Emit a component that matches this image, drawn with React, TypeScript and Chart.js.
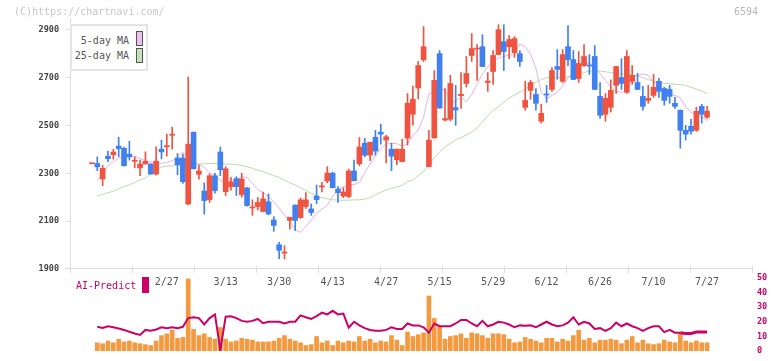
import React, { useEffect, useRef } from 'react';
import { Chart, registerables } from 'chart.js';
Chart.register(...registerables);

const MONO = '"DejaVu Sans Mono", "Liberation Mono", monospace';
const UP = '#f05440';
const DOWN = '#4080f0';
const AI_COLOR = '#cc0066';
const VOL_COLOR = '#f39a40';
const MA5_COLOR = '#e8b0e8';
const MA25_COLOR = '#b8dca8';

const OPEN = [2340,2341,2276,2372,2378,2414,2405,2380,2350,2323, 2339,2339,2297,2401,2411,2459,2364,2364,2171,2472, 2296,2226,2190,2290,2389,2223,2244,2278,2211,2239, 2155,2161,2140,2181,2105,2001,1966,2103,2167,2115, 2161,2151,2205,2243,2268,2301,2234,2205,2203,2310, 2340,2426,2376,2451,2472,2439,2401,2357,2349,2447, 2547,2657,2775,2328,2448,2801,2523,2526,2575,2625, 2676,2793,2820,2830,2680,2726,2797,2851,2830,2805, 2801,2576,2647,2630,2518,2632,2651,2747,2685,2830, 2776,2697,2751,2753,2789,2622,2547,2576,2668,2701, 2639,2685,2680,2622,2605,2626,2685,2655,2651,2593, 2564,2480,2497,2480,2580,2535];
const HIGH = [2343,2369,2334,2393,2401,2451,2410,2434,2369,2355, 2390,2340,2411,2439,2464,2494,2383,2380,2703,2473, 2334,2260,2298,2300,2410,2328,2283,2286,2300,2241, 2189,2199,2222,2214,2119,2011,1997,2117,2168,2197, 2219,2172,2251,2262,2328,2305,2244,2240,2318,2355, 2450,2447,2431,2480,2505,2459,2426,2402,2443,2634, 2665,2768,2914,2480,2730,2814,2655,2710,2668,2722, 2789,2885,2839,2880,2722,2814,2922,2922,2876,2872, 2814,2685,2689,2655,2589,2668,2743,2818,2818,2918, 2814,2810,2839,2797,2835,2680,2634,2691,2748,2780, 2814,2751,2718,2664,2668,2714,2697,2660,2668,2618, 2565,2501,2526,2576,2589,2580];
const LOW = [2339,2311,2248,2349,2359,2369,2330,2355,2323,2290, 2339,2296,2293,2361,2372,2401,2294,2258,2170,2318, 2276,2129,2178,2217,2290,2207,2230,2207,2200,2163, 2124,2147,2139,2126,2057,1943,1942,2067,2060,2111, 2153,2124,2173,2222,2260,2239,2178,2198,2198,2268, 2332,2369,2353,2376,2422,2344,2311,2336,2348,2418, 2501,2611,2768,2327,2447,2572,2519,2519,2501,2572, 2661,2768,2689,2746,2643,2672,2796,2730,2780,2785, 2747,2564,2610,2564,2510,2597,2643,2693,2680,2751, 2692,2680,2747,2714,2650,2530,2518,2556,2634,2651, 2634,2672,2650,2564,2593,2618,2618,2585,2593,2572, 2405,2439,2464,2476,2510,2530];
const CLOSE = [2342,2327,2321,2361,2389,2403,2332,2369,2355,2339, 2350,2297,2351,2390,2416,2464,2336,2265,2422,2319, 2310,2186,2290,2228,2315,2319,2264,2244,2276,2165, 2159,2178,2193,2130,2082,1978,1971,2116,2103,2189, 2189,2136,2190,2248,2301,2240,2219,2222,2310,2269, 2410,2376,2430,2393,2464,2453,2372,2401,2401,2593, 2610,2751,2830,2439,2689,2573,2529,2676,2565,2631, 2718,2822,2824,2747,2686,2793,2901,2810,2860,2864, 2768,2605,2680,2593,2551,2628,2730,2735,2797,2776, 2693,2760,2789,2749,2651,2543,2614,2647,2747,2676, 2789,2710,2651,2580,2614,2660,2643,2605,2622,2580, 2480,2464,2476,2560,2547,2560];

const MA5 = [null,2269,2300,2330,2350,2362,2369,2370,2372,2362, 2353,2348,2341,2341,2346,2352,2369,2389,2360,2339, 2339,2325,2300,2295,2269,2265,2268,2272,2286,2283, 2258,2232,2219,2203,2180,2155,2125,2100,2064,2053, 2078,2105,2133,2150,2166,2203,2230,2244,2253,2253, 2262,2303,2339,2375,2404,2422,2426,2424,2414,2423, 2458,2482,2536,2633,2640,2640,2654,2590,2605,2619, 2600,2630,2673,2715,2745,2769,2782,2789,2795,2800, 2841,2830,2800,2740,2640,2612,2626,2640,2665,2700, 2720,2740,2758,2761,2745,2716,2689,2661,2644,2639, 2644,2696,2710,2716,2710,2682,2670,2640,2630,2626, 2615,2580,2555,2543,2536,2520];
const MA25 = [null,2205,2212,2219,2225,2235,2245,2252,2262,2272, 2280,2298,2315,2327,2330,2331,2334,2337,2339,2339, 2339,2340,2341,2341,2340,2339,2338,2337,2333,2327, 2321,2313,2307,2298,2291,2282,2272,2260,2251,2240, 2228,2215,2205,2198,2193,2189,2188,2187,2188,2189, 2189,2192,2198,2210,2221,2230,2237,2243,2250,2265, 2272,2290,2307,2335,2365,2390,2410,2425,2440,2450, 2460,2472,2490,2515,2540,2563,2578,2598,2615,2628, 2640,2652,2668,2682,2692,2700,2700,2701,2702,2704, 2706,2715,2722,2728,2730,2728,2725,2722,2720,2716, 2714,2712,2708,2700,2692,2686,2680,2677,2675,2673, 2671,2668,2660,2652,2645,2632];

const VOLUME = [null,90,80,110,90,130,100,110,90,80, 70,60,110,170,190,230,140,150,800,240, 170,190,150,130,260,130,100,110,140,130, 120,100,100,100,110,140,170,130,110,90, 60,70,160,90,110,60,110,90,110,100, 160,110,130,90,110,100,170,120,60,210, 160,180,200,610,360,270,130,160,170,190, 140,200,190,170,140,190,190,180,130,90, 100,150,130,110,90,140,140,100,130,110, 170,230,120,140,90,120,120,130,120,80, 120,160,90,120,80,70,80,120,100,90, 200,110,90,110,90,90];
const AI = [null,16.5,15.8,16.9,16.2,15.3,14.4,13.1,11.9,10.9, 14.4,13.8,14.7,16.2,15.6,16.2,15.6,16.5,22.5,23.1, 22.5,18.1,22.5,25,0.5,23.5,23.8,22.5,20.6,20, 20.6,21.9,19,20,20,20,18.8,20,20,24.4, 23.1,21.9,23.8,26.2,25,27.5,25,25.6,16,20, 17.5,15.6,14.4,13.8,13.8,14.4,16.2,15,15,18.8, 17.5,17.5,16.2,12.5,18.8,16.9,16.9,16.9,18.8,21.2, 21.2,18.8,16.9,20.6,16.9,18.1,20,19.4,18.1,16.2, 17.5,17.2,17.5,16.2,18.1,20,18.1,16.9,17.5,19.4, 23.1,18.1,20,18.8,15,15.6,13.8,15.6,19.4,16.9, 18.8,16.9,15.6,13.8,15.6,16.9,16.9,12.9,14.4,12.5, 12.5,11.9,11.9,12.9,12.9,12.9];

const DATE_LABELS = ['2/27','3/13','3/30','4/13','4/27','5/15','5/29','6/12','6/26','7/10','7/27'];
const DATE_LABEL_INDEX = [14,25,35,45,55,65,75,85,95,105,115];
const PRICE_TICKS = [1900,2100,2300,2500,2700,2900];
const AI_TICKS = [0,10,20,30,40,50];

const X_MIN = -4.1;
const X_MAX = 123.4;
const X_GRID_COUNT = 11;
const IDX = OPEN.map((_, i) => i);

export default function App() {
  const mainRef = useRef<HTMLCanvasElement>(null);
  const subRef = useRef<HTMLCanvasElement>(null);

  useEffect(() => {
    const colors = IDX.map(i => (CLOSE[i] >= OPEN[i] ? UP : DOWN));
    const xTickPlugin = {
      id: 'xTicks',
      afterDraw(chart: any) {
        const { ctx, chartArea, scales } = chart;
        const xs = scales.x;
        ctx.save();
        ctx.strokeStyle = '#dddddd';
        ctx.lineWidth = 1;
        for (let k = 0; k <= X_GRID_COUNT; k++) {
          const v = X_MIN + (k * (X_MAX - X_MIN)) / X_GRID_COUNT;
          const px = Math.round(xs.getPixelForValue(v)) + 0.5;
          ctx.beginPath();
          ctx.moveTo(px, chartArea.bottom - 3);
          ctx.lineTo(px, chartArea.bottom + 4);
          ctx.stroke();
        }
        ctx.restore();
      },
    };
    const main = new Chart(mainRef.current as HTMLCanvasElement, {
      type: 'bar',
      data: {
        datasets: [
          { type: 'line', data: IDX.map(i => ({ x: i, y: MA5[i] })), borderColor: MA5_COLOR, borderWidth: 1, pointRadius: 0, order: 4 } as any,
          { type: 'line', data: IDX.map(i => ({ x: i, y: MA25[i] })), borderColor: MA25_COLOR, borderWidth: 1, pointRadius: 0, order: 3 } as any,
          { type: 'bar', data: IDX.map(i => ({ x: i, y: [LOW[i], HIGH[i]] })), backgroundColor: colors, barThickness: 1, grouped: false, order: 2 } as any,
          { type: 'bar', data: IDX.map(i => ({ x: i, y: [OPEN[i], CLOSE[i]] })), backgroundColor: colors, barThickness: 5, minBarLength: 1, grouped: false, order: 1 } as any,
        ],
      },
      options: {
        animation: false,
        responsive: false,
        layout: { padding: { left: 0, right: 20, top: 18, bottom: 0 } },
        plugins: { legend: { display: false }, tooltip: { enabled: false } },
        scales: {
          x: {
            type: 'linear', min: X_MIN, max: X_MAX, offset: false,
            ticks: { display: false },
            grid: { display: false, offset: false },
            border: { display: true, color: '#dddddd' },
            afterFit: (s: any) => { s.height = 11; },
          },
          y: {
            type: 'linear', min: 1900, max: 2950,
            afterBuildTicks: (s: any) => { s.ticks = PRICE_TICKS.map(v => ({ value: v })); },
            ticks: { font: { family: MONO, size: 8.5, weight: 'bold' }, color: '#444444', padding: 6, callback: (v: any) => String(v) },
            grid: { drawOnChartArea: false, tickLength: 5, color: '#dddddd' },
            border: { color: '#dddddd' },
            afterFit: (s: any) => { s.width = 70; },
          },
        },
      } as any,
      plugins: [xTickPlugin],
    });

    const dateLabelPlugin = {
      id: 'dateLabels',
      beforeDatasetsDraw(chart: any) {
        const { ctx, scales, chartArea } = chart;
        ctx.save();
        ctx.font = `10px ${MONO}`;
        ctx.fillStyle = '#555555';
        ctx.textAlign = 'center';
        ctx.textBaseline = 'middle';
        DATE_LABEL_INDEX.forEach((idx, k) => {
          ctx.fillText(DATE_LABELS[k], scales.x.getPixelForValue(idx), chartArea.top + 4);
        });
        ctx.restore();
      },
    };
    const sub = new Chart(subRef.current as HTMLCanvasElement, {
      type: 'bar',
      data: {
        datasets: [
          { type: 'line', data: IDX.map(i => ({ x: i, y: AI[i] })), borderColor: AI_COLOR, borderWidth: 2, pointRadius: 0, yAxisID: 'y', order: 1,
            segment: { borderWidth: (ctx: any) => (ctx.p0DataIndex >= 110 ? 3 : 2) } } as any,
          { type: 'bar', data: IDX.map(i => ({ x: i, y: VOLUME[i] })), backgroundColor: VOL_COLOR, barThickness: 4, grouped: false, yAxisID: 'yv', order: 2 } as any,
        ],
      },
      options: {
        animation: false,
        responsive: false,
        layout: { padding: { left: 70, right: 0, top: 16, bottom: 3 } },
        plugins: { legend: { display: false }, tooltip: { enabled: false } },
        scales: {
          x: { type: 'linear', min: X_MIN, max: X_MAX, offset: false, display: false, grid: { offset: false } },
          yv: { type: 'linear', position: 'left', min: 0, max: 810, display: false },
          y: {
            type: 'linear', position: 'right', min: 0, max: 50,
            afterBuildTicks: (s: any) => { s.ticks = AI_TICKS.map(v => ({ value: v })); },
            ticks: { font: { family: MONO, size: 8.5, weight: 'bold' }, color: AI_COLOR, padding: 5, callback: (v: any) => String(v) },
            grid: { display: false, drawOnChartArea: false, drawTicks: false },
            border: { display: false },
            afterFit: (s: any) => { s.width = 20; },
          },
        },
      } as any,
      plugins: [dateLabelPlugin],
    });
    return () => { main.destroy(); sub.destroy(); };
  }, []);

  const txt: React.CSSProperties = { position: 'absolute', fontFamily: MONO, fontSize: 10, lineHeight: '12px', whiteSpace: 'pre' };
  return (
    <div style={{ position: 'fixed', left: 0, top: 0, width: 772, height: 361, background: '#fff', overflow: 'hidden' }}>
      <canvas ref={mainRef} width={772} height={280} style={{ position: 'absolute', left: 0, top: 0, width: 772, height: 280 }} />
      <canvas ref={subRef} width={772} height={99} style={{ position: 'absolute', left: 0, top: 262, width: 772, height: 99 }} />
      <div style={{ ...txt, left: 14, top: 6, color: '#c8c8c8' }}>(C)https://chartnavi.com/</div>
      <div style={{ ...txt, left: 734, top: 6, color: '#b8b8b8' }}>6594</div>
      <div style={{ position: 'absolute', left: 70, top: 24, width: 78, height: 47, boxSizing: 'border-box', border: '2px solid #e4e4e4', background: '#fff' }}>
        <div style={{ ...txt, right: 17, top: 9, color: '#555' }}>5-day MA</div>
        <div style={{ ...txt, right: 17, top: 24, color: '#555' }}>25-day MA</div>
        <div style={{ position: 'absolute', left: 64, top: 5, width: 7, height: 15, boxSizing: 'border-box', border: '1px solid #555', background: '#f0c0f0' }} />
        <div style={{ position: 'absolute', left: 64, top: 22, width: 7, height: 15, boxSizing: 'border-box', border: '1px solid #555', background: '#c4e2b4' }} />
      </div>
      <div style={{ ...txt, left: 76, top: 280, color: AI_COLOR }}>AI-Predict</div>
      <div style={{ position: 'absolute', left: 142, top: 277, width: 7, height: 16, background: AI_COLOR }} />
    </div>
  );
}
